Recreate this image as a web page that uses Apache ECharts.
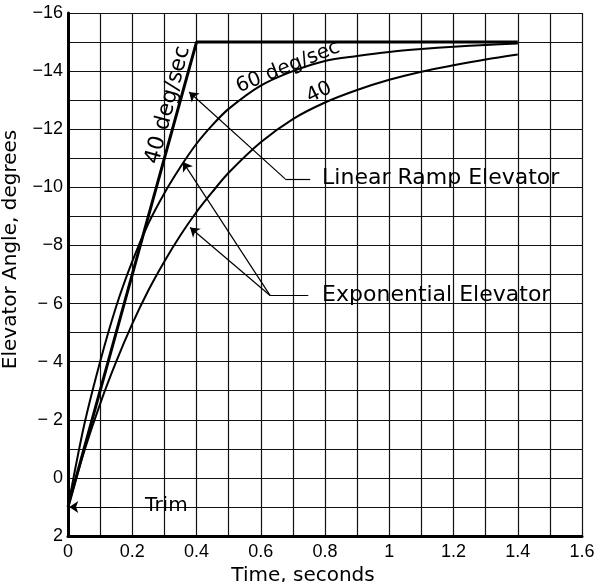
<!DOCTYPE html>
<html><head><meta charset="utf-8">
<script src="https://cdn.jsdelivr.net/npm/echarts@6/dist/echarts.min.js"></script>
<style>html,body{margin:0;padding:0;background:#fff}#c{width:597px;height:582px}</style>
</head><body><div id="c"></div>
<script>
// Time samples for the exponential elevator curves (seconds)
const expTime = [0, 0.05, 0.1, 0.15, 0.2, 0.25, 0.3, 0.35, 0.4, 0.45, 0.5, 0.6, 0.7, 0.8, 0.9, 1.0, 1.1, 1.2, 1.3, 1.4];
// Exponential elevator, 60 deg/sec initial rate (degrees)
const exp60 = [1, -1.8, -4.0, -5.9, -7.45, -8.75, -9.8, -10.7, -11.5, -12.15, -12.7, -13.5, -14.0, -14.35, -14.52, -14.66, -14.76, -14.84, -14.9, -14.95];
// Exponential elevator, 40 deg/sec initial rate (degrees)
const exp40 = [1, -0.9, -2.55, -4.0, -5.3, -6.45, -7.45, -8.35, -9.15, -9.85, -10.5, -11.55, -12.35, -12.92, -13.35, -13.7, -13.98, -14.2, -14.4, -14.57];
// Linear ramp elevator, 40 deg/sec
const rampTime = [0, 0.4, 1.4];
const ramp40 = [1, -15, -15];
// Tick labels
const xTickLabels = ['0', '0.2', '0.4', '0.6', '0.8', '1', '1.2', '1.4', '1.6'];
const yTickValues = [-16, -14, -12, -10, -8, -6, -4, -2, 0, 2];
const yTickLabels = ['\u221216', '\u221214', '\u221212', '\u221210', '\u22128', '\u2212 6', '\u2212 4', '\u2212 2', '0', '2'];

const zip = (xs, ys) => xs.map((x, i) => [x, ys[i]]);
const gridLine = { show: true, lineStyle: { color: '#111', width: 1.2, type: 'solid' } };
const annFont = 'DejaVu Sans';

const chart = echarts.init(document.getElementById('c'), null, { renderer: 'canvas' });
chart.setOption({
  animation: false,
  backgroundColor: '#fff',
  grid: { left: 68, right: 15, top: 13, bottom: 46, containLabel: false, outerBoundsMode: 'none' },
  xAxis: {
    type: 'value', min: 0, max: 1.6, interval: 0.2,
    name: 'Time, seconds', nameLocation: 'middle', nameGap: 22,
    nameTextStyle: { fontFamily: annFont, fontSize: 20, color: '#000', padding: [0, 44, 0, 0] },
    axisLine: { show: true, onZero: false, lineStyle: { color: '#000', width: 3 } },
    axisTick: { show: false },
    minorTick: { show: false, splitNumber: 2 },
    splitLine: gridLine,
    minorSplitLine: gridLine,
    axisLabel: {
      fontFamily: 'Liberation Sans', fontSize: 18, color: '#000', margin: 7,
      formatter: v => xTickLabels[Math.round(v / 0.2)]
    }
  },
  yAxis: {
    type: 'value', inverse: true, min: -16, max: 2, interval: 2,
    name: 'Elevator Angle, degrees', nameLocation: 'middle', nameGap: 47,
    nameTextStyle: { fontFamily: annFont, fontSize: 20, color: '#000', padding: [0, 0, 0, 50] },
    axisLine: { show: true, onZero: false, lineStyle: { color: '#000', width: 3 } },
    axisTick: { show: false },
    minorTick: { show: false, splitNumber: 2 },
    splitLine: gridLine,
    minorSplitLine: gridLine,
    axisLabel: {
      fontFamily: 'Liberation Sans', fontSize: 18, color: '#000', margin: 5,
      formatter: v => yTickLabels[yTickValues.indexOf(Math.round(v))]
    }
  },
  series: [
    {
      name: 'Linear ramp 40 deg/sec', type: 'line', data: zip(rampTime, ramp40),
      showSymbol: false, lineStyle: { color: '#000', width: 3 }, z: 5
    },
    {
      name: 'Exponential 60 deg/sec', type: 'line', data: zip(expTime, exp60), smooth: 0.3,
      showSymbol: false, lineStyle: { color: '#000', width: 2 }, z: 4
    },
    {
      name: 'Exponential 40 deg/sec', type: 'line', data: zip(expTime, exp40), smooth: 0.3,
      showSymbol: false, lineStyle: { color: '#000', width: 2 }, z: 4
    },
    {
      name: 'annotations', type: 'line', data: [], silent: true, z: 6,
      markLine: {
        silent: true, animation: false, symbol: ['none', 'none'], symbolSize: 9,
        label: { show: false },
        lineStyle: { color: '#000', width: 1.2, type: 'solid' },
        emphasis: { disabled: true },
        data: [
          [{ coord: [0.754, -10.29] }, { coord: [0.676, -10.29] }],
          [{ coord: [0.676, -10.29] }, { coord: [0.377, -13.28], symbol: 'arrow' }],
          [{ coord: [0.748, -6.28] }, { coord: [0.629, -6.28] }],
          [{ coord: [0.629, -6.28] }, { coord: [0.358, -10.87], symbol: 'arrow' }],
          [{ coord: [0.629, -6.28] }, { coord: [0.380, -8.62], symbol: 'arrow' }],
          [{ coord: [0.156, 1] }, { coord: [0.004, 1], symbol: 'arrow' }]
        ]
      },
      markPoint: {
        silent: true, animation: false, symbol: 'circle', symbolSize: 1,
        itemStyle: { color: 'rgba(0,0,0,0)' },
        label: { show: true, position: 'inside', color: '#000', fontFamily: annFont, fontSize: 22 },
        data: [
          { coord: [0.791, -10.32], value: 'Linear Ramp Elevator', label: { align: 'left', verticalAlign: 'middle', formatter: 'Linear Ramp Elevator' } },
          { coord: [0.791, -6.30], value: 'Exponential Elevator', label: { align: 'left', verticalAlign: 'middle', formatter: 'Exponential Elevator' } },
          { coord: [0.24, 0.97], value: 'Trim', label: { align: 'left', verticalAlign: 'middle', fontSize: 20, formatter: 'Trim' } },
          { coord: [0.3115, -12.83], value: '40 deg/sec', label: { align: 'center', verticalAlign: 'middle', rotate: 75, formatter: '40 deg/sec' } },
          { coord: [0.685, -14.14], value: '60 deg/sec', label: { align: 'center', verticalAlign: 'middle', rotate: 22, fontSize: 20, formatter: '60 deg/sec' } },
          { coord: [0.782, -13.26], value: '40', label: { align: 'center', verticalAlign: 'middle', rotate: 26, fontSize: 20, formatter: '40' } }
        ]
      }
    }
  ]
});
</script>
</body></html>
